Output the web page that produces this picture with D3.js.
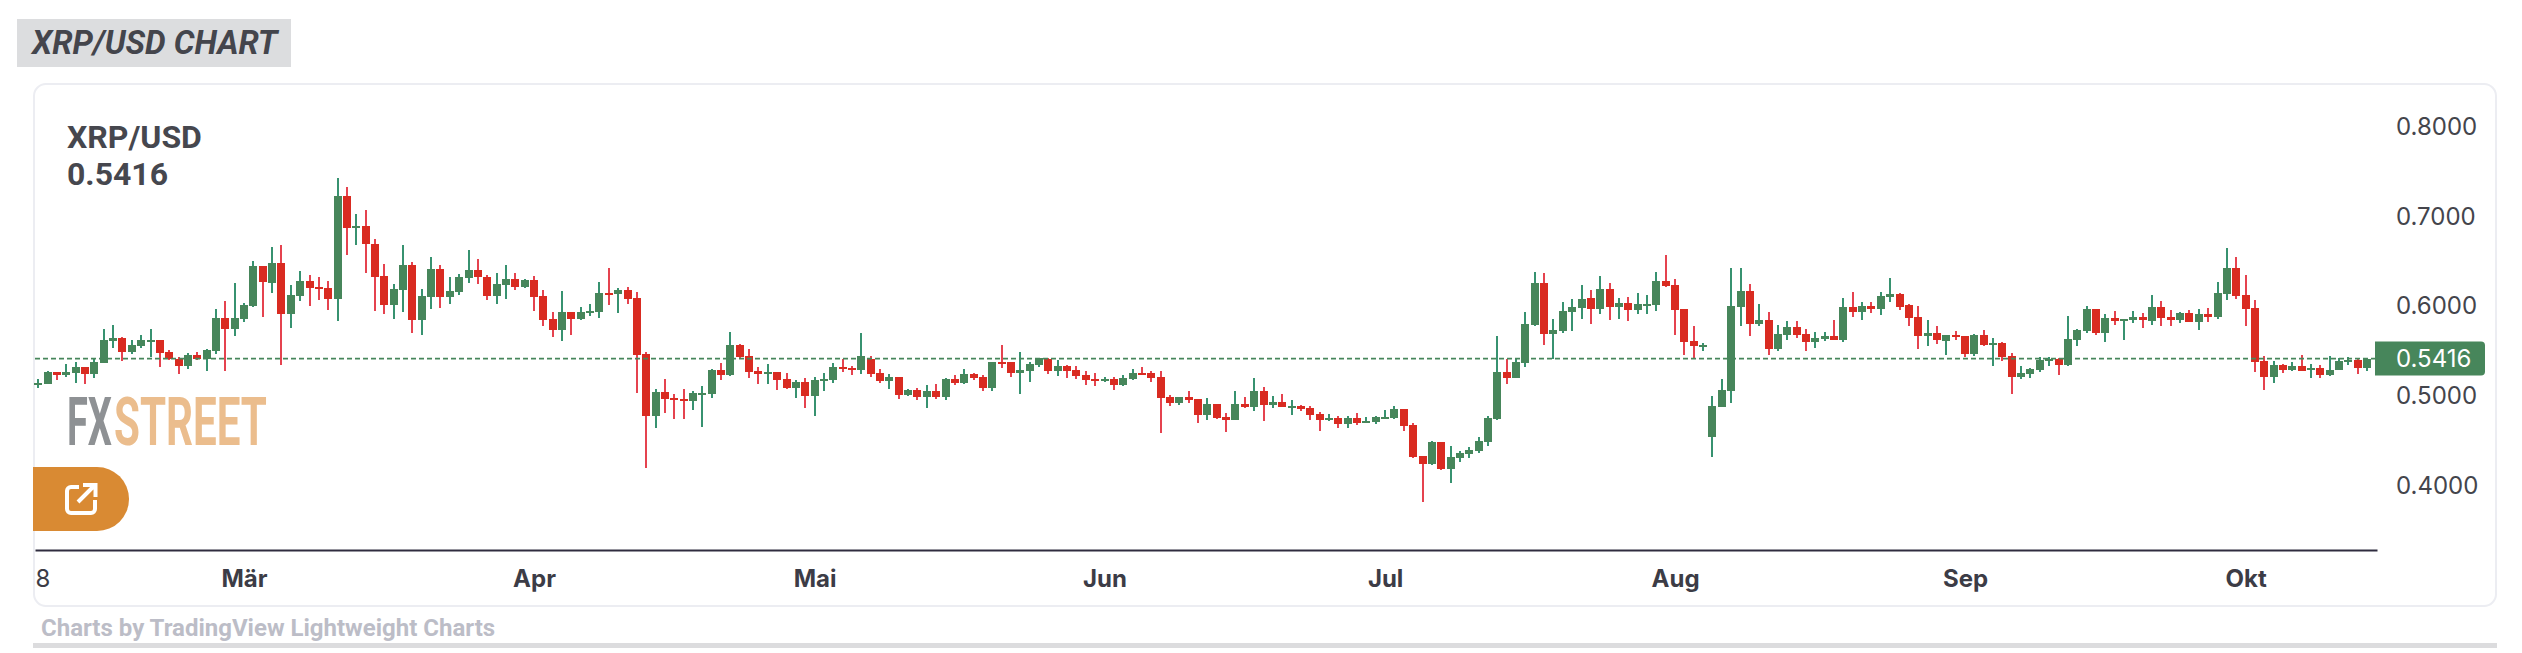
<!DOCTYPE html>
<html>
<head>
<meta charset="utf-8">
<title>XRP/USD chart</title>
<script src="https://cdnjs.cloudflare.com/ajax/libs/d3/7.8.5/d3.min.js"></script>
<style>
  html, body { margin: 0; padding: 0; background: #fff; }
  svg { display: block; }
  .axis text { font-family: Inter, sans-serif; font-size: 24px; fill: #44454c; }
  .axis.x text { font-weight: 700; fill: #3c3c46; }
</style>
</head>
<body>
<script>
// daily candles, oldest first
var opens = [
  .5126,.5137,.5263,.5233,.5260,.5319,.5245,.5371,.5617,.5642,
  .5493,.5560,.5612,.5620,.5486,.5408,.5334,.5453,.5412,.5505,
  .5865,.5746,.5858,.6003,.6445,.6263,.6479,.5917,.6118,.6278,
  .6215,.6200,.6085,.7225,.6869,.6891,.6690,.6334,.6018,.6185,
  .6456,.5851,.6107,.6412,.6107,.6159,.6319,.6401,.6322,.6118,
  .6241,.6300,.6218,.6289,.6111,.5854,.5739,.5932,.5862,.5929,
  .5936,.6148,.6137,.6178,.6088,.5468,.4780,.5040,.4977,.4962,
  .4948,.5022,.5026,.5286,.5234,.5564,.5442,.5275,.5249,.5263,
  .5185,.5092,.5152,.5003,.5170,.5182,.5323,.5308,.5293,.5408,
  .5252,.5170,.5208,.5014,.5063,.4992,.5055,.4988,.5189,.5144,
  .5245,.5211,.5089,.5382,.5379,.5256,.5278,.5345,.5412,.5278,
  .5334,.5289,.5233,.5189,.5167,.5189,.5122,.5189,.5256,.5256,
  .5211,.4988,.4922,.4988,.4966,.4788,.4910,.4765,.4732,.4910,
  .4877,.5055,.4899,.4933,.4877,.4888,.4866,.4799,.4732,.4754,
  .4687,.4754,.4710,.4710,.4754,.4754,.4855,.4676,.4331,.4242,
  .4487,.4186,.4308,.4353,.4386,.4487,.4743,.5267,.5200,.5367,
  .5791,.6259,.5691,.5724,.5936,.5981,.6092,.5969,.6192,.5992,
  .6036,.5958,.6014,.6014,.6282,.6237,.5969,.5613,.5557,.4543,
  .4877,.5055,.5992,.6170,.5802,.5847,.5524,.5680,.5769,.5691,
  .5602,.5635,.5668,.5624,.5992,.5936,.6003,.5969,.6103,.6137,
  .6014,.5880,.5668,.5702,.5613,.5680,.5668,.5468,.5680,.5568,
  .5590,.5446,.5211,.5245,.5289,.5397,.5408,.5345,.5624,.5724,
  .5969,.5702,.5869,.5843,.5847,.5880,.5836,.5992,.5880,.5847,
  .5925,.5825,.5914,.5880,.6137,.6427,.6126,.5981,.5390,.5211,
  .5345,.5289,.5334,.5289,.5312,.5233,.5289,.5379,.5401,.5312
];
var closes = [
  .5148,.5263,.5233,.5263,.5319,.5245,.5375,.5620,.5642,.5493,
  .5564,.5620,.5624,.5479,.5412,.5334,.5453,.5416,.5508,.5865,
  .5746,.5865,.6014,.6445,.6274,.6479,.5917,.6122,.6278,.6207,
  .6200,.6085,.7225,.6869,.6891,.6687,.6330,.6018,.6189,.6456,
  .5851,.6111,.6412,.6107,.6166,.6322,.6401,.6322,.6118,.6244,
  .6300,.6218,.6289,.6107,.5851,.5739,.5932,.5862,.5932,.5947,
  .6144,.6137,.6181,.6085,.5460,.4780,.5044,.4970,.4959,.4948,
  .5033,.5029,.5286,.5234,.5564,.5434,.5267,.5245,.5267,.5182,
  .5092,.5152,.5003,.5174,.5189,.5319,.5304,.5289,.5442,.5249,
  .5170,.5208,.5014,.5063,.4992,.5052,.4988,.5189,.5144,.5245,
  .5200,.5089,.5379,.5367,.5256,.5289,.5356,.5423,.5278,.5334,
  .5278,.5222,.5178,.5167,.5189,.5122,.5200,.5256,.5245,.5200,
  .4977,.4922,.4988,.4955,.4788,.4910,.4754,.4732,.4910,.4877,
  .5055,.4899,.4933,.4877,.4888,.4855,.4788,.4732,.4754,.4687,
  .4754,.4699,.4721,.4765,.4765,.4855,.4665,.4320,.4242,.4487,
  .4186,.4320,.4364,.4398,.4498,.4754,.5267,.5200,.5379,.5802,
  .6259,.5691,.5735,.5947,.5992,.6081,.5969,.6192,.5992,.6036,
  .5958,.6025,.6025,.6282,.6226,.5958,.5602,.5557,.5568,.4888,
  .5066,.6003,.6170,.5802,.5847,.5524,.5691,.5769,.5680,.5602,
  .5646,.5668,.5624,.5992,.5936,.6003,.5969,.6114,.6137,.5992,
  .5869,.5668,.5702,.5624,.5680,.5657,.5468,.5680,.5568,.5590,
  .5434,.5211,.5256,.5297,.5401,.5412,.5345,.5635,.5735,.5969,
  .5702,.5869,.5836,.5858,.5880,.5847,.5992,.5869,.5847,.5925,
  .5825,.5914,.5880,.6148,.6427,.6114,.5969,.5379,.5211,.5345,
  .5289,.5334,.5278,.5312,.5233,.5289,.5390,.5401,.5312,.5416
];
var highs = [
  .5185,.5278,.5271,.5352,.5375,.5326,.5419,.5743,.5787,.5653,
  .5620,.5676,.5743,.5620,.5508,.5430,.5475,.5486,.5520,.5966,
  .6055,.6256,.6033,.6501,.6445,.6661,.6679,.6233,.6389,.6345,
  .6326,.6278,.7426,.7326,.7025,.7069,.6746,.6467,.6244,.6679,
  .6490,.6189,.6545,.6456,.6322,.6356,.6623,.6523,.6345,.6367,
  .6456,.6367,.6300,.6334,.6178,.5932,.6166,.5932,.5988,.6022,
  .6267,.6423,.6200,.6211,.6155,.5490,.5074,.5185,.5018,.5074,
  .5052,.5107,.5297,.5364,.5709,.5575,.5520,.5319,.5353,.5271,
  .5252,.5174,.5197,.5208,.5252,.5364,.5408,.5334,.5698,.5442,
  .5297,.5241,.5208,.5074,.5085,.5118,.5133,.5197,.5233,.5300,
  .5256,.5233,.5379,.5568,.5379,.5490,.5379,.5423,.5423,.5401,
  .5345,.5334,.5278,.5256,.5211,.5211,.5233,.5300,.5323,.5278,
  .5278,.5011,.4988,.5055,.4966,.4977,.4910,.4810,.5055,.4988,
  .5200,.5100,.5000,.5022,.4955,.4899,.4888,.4821,.4799,.4777,
  .4777,.4810,.4765,.4777,.4840,.4884,.4855,.4699,.4331,.4498,
  .4487,.4442,.4386,.4431,.4543,.4777,.5668,.5412,.5423,.5936,
  .6382,.6371,.5858,.6047,.6081,.6237,.6181,.6337,.6259,.6092,
  .6103,.6148,.6126,.6382,.6571,.6304,.5969,.5780,.5590,.5000,
  .5189,.6427,.6427,.6248,.6025,.5936,.5791,.5836,.5836,.5746,
  .5713,.5713,.5847,.6088,.6159,.6047,.6047,.6159,.6315,.6148,
  .6025,.6003,.5847,.5780,.5680,.5724,.5668,.5691,.5735,.5646,
  .5602,.5479,.5334,.5312,.5434,.5434,.5423,.5891,.5746,.6003,
  .5969,.5914,.5947,.5858,.5947,.5925,.6126,.6059,.5958,.5936,
  .5958,.5969,.5981,.6270,.6650,.6549,.6349,.6070,.5446,.5390,
  .5356,.5379,.5457,.5356,.5345,.5446,.5423,.5434,.5423,.5423
];
var lows = [
  .5089,.5137,.5178,.5215,.5148,.5133,.5200,.5363,.5538,.5390,
  .5471,.5538,.5438,.5323,.5401,.5248,.5304,.5401,.5282,.5471,
  .5282,.5672,.5825,.5995,.5884,.6148,.5345,.5758,.6059,.6003,
  .6070,.5958,.5836,.6571,.6683,.6371,.5947,.5914,.5858,.5936,
  .5702,.5680,.5969,.5981,.6025,.6126,.6259,.6248,.6074,.6029,
  .6085,.6185,.6207,.5951,.5784,.5661,.5616,.5683,.5851,.5895,
  .5873,.6018,.5929,.6029,.5037,.4201,.4646,.4814,.4747,.4747,
  .4847,.4658,.4981,.5182,.5226,.5423,.5200,.5137,.5137,.5070,
  .5081,.4981,.4870,.4780,.5059,.5148,.5271,.5237,.5249,.5215,
  .5148,.5081,.4970,.5003,.4959,.4870,.4966,.4955,.5122,.5133,
  .5178,.5055,.5055,.5312,.5211,.5022,.5155,.5323,.5245,.5222,
  .5200,.5189,.5122,.5111,.5155,.5066,.5111,.5178,.5233,.5155,
  .4587,.4888,.4899,.4922,.4699,.4732,.4743,.4598,.4732,.4866,
  .4832,.4721,.4866,.4877,.4788,.4832,.4732,.4609,.4721,.4643,
  .4643,.4676,.4710,.4687,.4743,.4743,.4609,.4308,.3818,.4230,
  .4175,.4030,.4264,.4308,.4364,.4442,.4732,.5133,.5200,.5323,
  .5780,.5568,.5412,.5702,.5724,.5858,.5802,.5914,.5847,.5858,
  .5836,.5914,.5914,.5947,.6215,.5680,.5457,.5423,.5501,.4320,
  .4877,.4922,.5780,.5668,.5780,.5457,.5501,.5624,.5646,.5501,
  .5535,.5613,.5624,.5602,.5880,.5847,.5925,.5903,.6047,.5958,
  .5780,.5524,.5557,.5579,.5457,.5624,.5434,.5446,.5557,.5334,
  .5390,.5022,.5189,.5200,.5267,.5334,.5233,.5334,.5557,.5702,
  .5680,.5602,.5791,.5624,.5813,.5758,.5791,.5780,.5780,.5813,
  .5825,.5735,.5825,.5858,.6070,.6081,.5780,.5267,.5066,.5144,
  .5256,.5278,.5278,.5200,.5200,.5222,.5289,.5345,.5245,.5278
];
var priceTicks = [0.4, 0.5, 0.6, 0.7, 0.8];
// first label is cut by the card edge in the original, only the 8 is left
var timeTicks = [0.45, 22, 53, 83, 114, 144, 175, 206, 236];
var timeLabels = ["8", "Mär", "Apr", "Mai", "Jun", "Jul", "Aug", "Sep", "Okt"];
var lastPrice = 0.5416;

var width = 2522, height = 653;
var UP_BODY = "#47865b", UP_WICK = "#379270", DOWN_BODY = "#d92b21", DOWN_WICK = "#e5434f";

function chart() {
  var svg = d3.select("body").append("svg")
      .attr("width", width)
      .attr("height", height);

  // heading tab
  svg.append("rect")
      .attr("x", 17).attr("y", 19).attr("width", 274).attr("height", 48)
      .attr("fill", "#dcdddf");
  svg.append("text")
      .text("XRP/USD CHART")
      .attr("x", 32).attr("y", 54)
      .attr("font-family", "Roboto, sans-serif")
      .attr("font-weight", 700).attr("font-style", "italic")
      .attr("font-size", 32.7)
      .attr("fill", "#44454c");

  // card
  svg.append("rect")
      .attr("x", 34).attr("y", 84).attr("width", 2462).attr("height", 522)
      .attr("rx", 12)
      .attr("fill", "#fff")
      .attr("stroke", "#ecedf2")
      .attr("stroke-width", 2);

  svg.append("rect")
      .attr("x", 33).attr("y", 643).attr("width", 2464).attr("height", 5)
      .attr("fill", "#dcdcde");

  svg.append("text")
      .text("Charts by TradingView Lightweight Charts")
      .attr("x", 41).attr("y", 636)
      .attr("font-family", "Roboto, sans-serif")
      .attr("font-weight", 700)
      .attr("font-size", 24)
      .attr("fill", "#bcbdc7");

  // scales
  var xScale = d3.scaleLinear().domain([-0.35, 250.05]).range([35, 2377]);
  var yScale = d3.scaleLinear().domain([0.4, 0.8]).range([485.7, 126.6]);

  // watermark sits under the candles, squeezed because no condensed font is around
  var logo = svg.append("g")
      .attr("font-family", "Roboto, sans-serif")
      .attr("font-weight", 700)
      .attr("font-size", 67);
  function logoPart(label, color, left, w) {
    var t = logo.append("text").text(label).attr("fill", color);
    var sx = w / t.node().getComputedTextLength();
    t.attr("transform", "translate(" + left + ",445) scale(" + sx + ",1)");
  }
  logoPart("FX", "#8e9194", 67, 45);
  logoPart("STREET", "#ebbd8d", 114, 153);

  // candles
  var candles = svg.append("g").attr("shape-rendering", "crispEdges");
  var rising = function(i) { return closes[i] >= opens[i]; };
  var xMap = function(i) { return Math.round(xScale(i)); };

  candles.selectAll(".wick")
      .data(d3.range(opens.length))
      .enter().append("rect")
      .attr("class", "wick")
      .attr("x", function(i) { return xMap(i) - 1; })
      .attr("width", 2)
      .attr("y", function(i) { return Math.round(yScale(highs[i])); })
      .attr("height", function(i) { return Math.round(yScale(lows[i])) - Math.round(yScale(highs[i])); })
      .attr("fill", function(i) { return rising(i) ? UP_WICK : DOWN_WICK; });

  candles.selectAll(".body")
      .data(d3.range(opens.length))
      .enter().append("rect")
      .attr("class", "body")
      .attr("x", function(i) { return xMap(i) - 4; })
      .attr("width", 8)
      .attr("y", function(i) { return Math.round(yScale(Math.max(opens[i], closes[i]))); })
      .attr("height", function(i) {
        var h = Math.round(yScale(Math.min(opens[i], closes[i]))) - Math.round(yScale(Math.max(opens[i], closes[i])));
        return Math.max(h, 2);
      })
      .attr("fill", function(i) { return rising(i) ? UP_BODY : DOWN_BODY; });

  // last price line goes over the candles
  svg.append("line")
      .attr("x1", 35).attr("x2", 2375)
      .attr("y1", yScale(lastPrice)).attr("y2", yScale(lastPrice))
      .attr("stroke", UP_BODY)
      .attr("stroke-width", 1.6)
      .attr("stroke-dasharray", "5 3");

  // x-axis
  var xAxis = d3.axisBottom(xScale)
      .tickValues(timeTicks)
      .tickFormat(function(d, i) { return timeLabels[i]; })
      .tickSize(0)
      .tickPadding(20);
  var gx = svg.append("g")
      .attr("class", "x axis")
      .attr("transform", "translate(0,550)")
      .call(xAxis);
  gx.select(".domain").attr("stroke", "#2f2c3f").attr("stroke-width", 2);
  gx.selectAll("text").filter(function(d, i) { return i == 0; })
      .style("font-weight", 400);

  // y-axis
  var yAxis = d3.axisRight(yScale)
      .tickValues(priceTicks)
      .tickFormat(d3.format(".4f"))
      .tickSize(0)
      .tickPadding(0);
  var gy = svg.append("g")
      .attr("class", "y axis")
      .attr("transform", "translate(2396,0)")
      .call(yAxis);
  gy.select(".domain").remove();

  // price tag
  var tagY = yScale(lastPrice);
  svg.append("path")
      .attr("d", "M2375," + (tagY - 17) + "H2481a4,4 0 0 1 4,4V" + (tagY + 13) + "a4,4 0 0 1 -4,4H2375Z")
      .attr("fill", UP_BODY);
  svg.append("text")
      .text(d3.format(".4f")(lastPrice))
      .attr("x", 2396).attr("y", tagY)
      .attr("dy", ".34em")
      .attr("font-family", "Inter, sans-serif")
      .attr("font-size", 24)
      .attr("fill", "#fff");

  // name and value top left
  var head = svg.append("g")
      .attr("font-family", "Roboto, sans-serif")
      .attr("font-weight", 700)
      .attr("font-size", 32)
      .attr("fill", "#46474e");
  head.append("text").text("XRP/USD").attr("x", 67).attr("y", 148);
  head.append("text").text(d3.format(".4f")(lastPrice)).attr("x", 67).attr("y", 185);

  // orange share button
  svg.append("path")
      .attr("d", "M33,467H97a32,32 0 0 1 0,64H33Z")
      .attr("fill", "#d98a33");
  svg.append("path")
      .attr("d", "M79,487H71a4,4 0 0 0 -4,4V509a4,4 0 0 0 4,4H91a4,4 0 0 0 4,-4V500M78,502L95,485M83,485H95.5V497")
      .attr("fill", "none")
      .attr("stroke", "#fff")
      .attr("stroke-width", 4);
}

window.onload = chart();
</script>
</body>
</html>
